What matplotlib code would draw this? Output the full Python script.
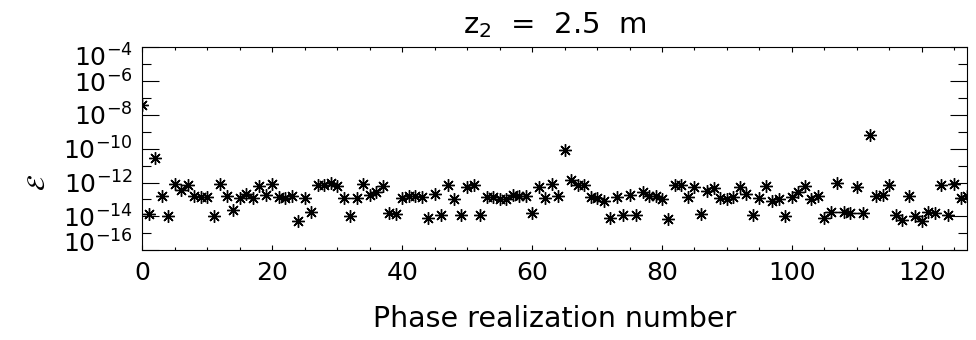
import numpy as np
import matplotlib.pyplot as plt
import matplotlib.ticker as mticker
import matplotlib.transforms as mtrans

# phase realization index and error values
realization = np.arange(128)
error = [
    3.9e-8, 1.35e-14, 2.75e-11, 1.66e-13, 1.0e-14, 8.7e-13, 3.7e-13, 6.8e-13,
    1.5e-13, 1.3e-13, 1.4e-13, 1.05e-14, 8.1e-13, 1.5e-13, 2.3e-14, 1.26e-13,
    2.1e-13, 1.15e-13, 5.9e-13, 1.9e-13, 8.5e-13, 1.4e-13, 1.2e-13, 1.66e-13,
    5.5e-15, 1.2e-13, 1.9e-14, 6.8e-13, 7.4e-13, 1.0e-12, 6.5e-13, 1.26e-13,
    1.05e-14, 1.2e-13, 7.8e-13, 1.9e-13, 2.8e-13, 6.5e-13, 1.6e-14, 1.4e-14,
    1.26e-13, 1.5e-13, 1.66e-13, 1.45e-13, 8.3e-15, 2.0e-13, 1.2e-14, 7.4e-13,
    1.05e-13, 1.23e-14, 5.4e-13, 6.8e-13, 1.2e-14, 1.4e-13, 1.45e-13, 1.0e-13,
    1.1e-13, 1.9e-13, 1.66e-13, 1.66e-13, 1.55e-14, 5.6e-13, 1.15e-13, 8.1e-13,
    1.66e-13, 8.5e-11, 1.4e-12, 6.8e-13, 7.4e-13, 1.3e-13, 1.2e-13, 8.3e-14,
    8.3e-15, 1.4e-13, 1.2e-14, 1.9e-13, 1.2e-14, 2.7e-13, 1.66e-13, 1.66e-13,
    1.05e-13, 6.9e-15, 6.8e-13, 6.8e-13, 1.4e-13, 5.6e-13, 1.4e-14, 3.1e-13,
    4.9e-13, 1.15e-13, 1.05e-13, 1.4e-13, 5.4e-13, 2.0e-13, 1.2e-14, 1.15e-13,
    6.5e-13, 7.6e-14, 1.05e-13, 1.05e-14, 1.4e-13, 2.8e-13, 6.5e-13, 1.05e-13,
    1.66e-13, 8.3e-15, 1.9e-14, 9.1e-13, 1.9e-14, 1.6e-14, 5.6e-13, 1.6e-14,
    6.6e-10, 1.66e-13, 1.9e-13, 6.8e-13, 1.2e-14, 6.0e-15, 1.66e-13, 1.05e-14,
    5.2e-15, 1.9e-14, 1.5e-14, 6.8e-13, 1.2e-14, 7.8e-13, 1.2e-13, 1.5e-13,
]

x_ticks = [0, 20, 40, 60, 80, 100, 120]
y_major = [1e-16, 1e-14, 1e-12, 1e-10, 1e-8, 1e-6, 1e-4]
y_minor = [1e-15, 1e-13, 1e-11, 1e-9, 1e-7, 1e-5]
y_labels = ['$10^{-16}$', '$10^{-14}$', '$10^{-12}$', '$10^{-10}$',
            '$10^{-8}$', '$10^{-6}$', '$10^{-4}$']

fig = plt.figure(figsize=(9.76, 3.40), dpi=100, facecolor='white')
ax = fig.add_axes([0.146, 0.2647, 0.845, 0.5956])

ax.plot(realization, error, linestyle='none', marker=(8, 2, 0),
        markersize=9, markeredgewidth=1.0, color='black', clip_on=True)

ax.set_yscale('log')
ax.set_xlim(0, 127)
ax.set_ylim(1e-16, 1e-4)

ax.xaxis.set_major_locator(mticker.FixedLocator(x_ticks))
ax.xaxis.set_minor_locator(mticker.MultipleLocator(5))
ax.yaxis.set_major_locator(mticker.FixedLocator(y_major))
ax.yaxis.set_minor_locator(mticker.FixedLocator(y_minor))
ax.yaxis.set_major_formatter(mticker.FixedFormatter(y_labels))
ax.yaxis.set_minor_formatter(mticker.NullFormatter())

ax.tick_params(axis='both', which='both', direction='in', top=True, right=True,
               width=0.8, colors='black')
ax.tick_params(axis='x', which='major', length=3.6, pad=8, labelsize=18)
ax.tick_params(axis='x', which='minor', length=2.0)
ax.tick_params(axis='y', which='major', length=12, pad=7, labelsize=18)
ax.tick_params(axis='y', which='minor', length=6.5)

for s in ax.spines.values():
    s.set_linewidth(0.8)

# IDL keeps the end labels inside the axis range
lbls = ax.get_yticklabels()
lbls[0].set_transform(lbls[0].get_transform() +
                      mtrans.ScaledTranslation(0, 0.09, fig.dpi_scale_trans))
lbls[-1].set_transform(lbls[-1].get_transform() +
                       mtrans.ScaledTranslation(0, -0.085, fig.dpi_scale_trans))

ax.set_xlabel('Phase realization number', fontsize=20.5, labelpad=14)
ax.set_title(r'z$_\mathregular{2}$  =  2.5  m', fontsize=21, pad=10)
fig.text(0.039, 0.462, r'$\mathcal{E}$', rotation=90, fontsize=18,
         ha='center', va='center')

plt.savefig('out.png', dpi=100, facecolor='white')
